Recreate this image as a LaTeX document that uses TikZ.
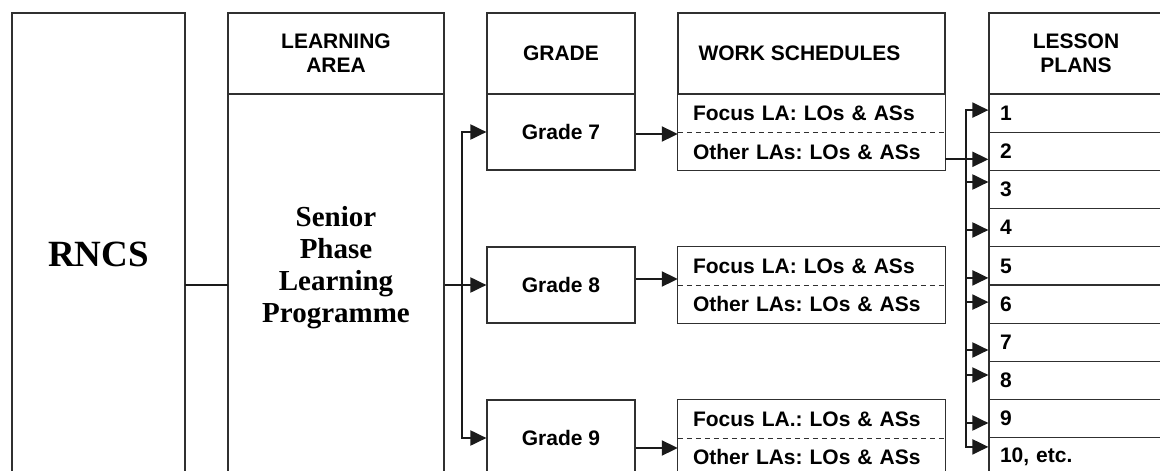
\documentclass[tikz,border=0pt]{standalone}
\usepackage{fontspec}
\setmainfont{Liberation Sans}
\newfontfamily\timesb{Liberation Serif}
\usetikzlibrary{arrows.meta,calc}
\definecolor{boxc}{HTML}{303030}
\definecolor{arrc}{HTML}{1A1A1A}
\begin{document}
\frenchspacing
\begin{tikzpicture}[x=1pt,y=-1pt,
  txt/.style={font=\frenchspacing\bfseries\fontsize{21}{24}\selectfont},
  box/.style={draw=boxc, line width=1.2pt, inner sep=0pt, txt, align=center},
  wsrow/.style={txt, text width=237pt, inner xsep=15pt, inner ysep=0pt, minimum height=38pt, align=left},
  lprow/.style={draw=boxc, line width=1.2pt, txt, text width=152pt, inner xsep=11pt, inner ysep=0pt, minimum height=38.2pt, align=left},
  boxline/.style={draw=boxc, line width=1.2pt},
  sep/.style={draw=boxc, line width=1pt, dash pattern=on 5pt off 4pt},
  conn/.style={draw=arrc, line width=2pt, line cap=rect},
  arr/.style={draw=arrc, line width=2pt, -{Triangle[length=16pt,width=15pt]}}]
\useasboundingbox (0,0) rectangle (1160,471);
\clip (0,0) rectangle (1160,471);
\fill[white] (0,0) rectangle (1160,471);
% RNCS
\node[box, minimum width=173pt, minimum height=482pt] (rncs) at (98.5,254) {\timesb\bfseries\fontsize{37}{40}\selectfont RNCS};
% Learning area
\node[box, minimum width=216pt, minimum height=81pt] (lahead) at (336,53.5) {LEARNING\\AREA};
\node[box, minimum width=216pt, minimum height=420pt, anchor=north] (la) at (336,94) {};
\node[font=\timesb\bfseries\fontsize{29}{32}\selectfont, align=center] (lat) at (336,268) {Senior\\Phase\\Learning\\Programme};
% Grade
\node[box, minimum width=148pt, minimum height=81pt] (ghead) at (561,53.5) {GRADE};
\node[box, minimum width=148pt, minimum height=76pt] (g7) at (561,132) {Grade 7};
\node[box, minimum width=148pt, minimum height=76pt] (g8) at (561,285) {Grade 8};
\node[box, minimum width=148pt, minimum height=76pt] (g9) at (561,438) {Grade 9};
% Work schedules
\node[box, minimum width=267pt, minimum height=81pt] (wshead) at (811.5,53.5) {WORK SCHEDULES\hspace*{24pt}};
\node[wsrow] (ws7f) at (811.5,113.5) {Focus LA: LOs \& ASs};
\node[wsrow] (ws7o) at (811.5,151.5) {Other LAs: LOs \& ASs};
\node[wsrow] (ws8f) at (811.5,266) {Focus LA: LOs \& ASs};
\node[wsrow] (ws8o) at (811.5,304) {Other LAs: LOs \& ASs};
\node[wsrow] (ws9f) at (811.5,419) {Focus LA.: LOs \& ASs};
\node[wsrow] (ws9o) at (811.5,457) {Other LAs: LOs \& ASs};
\foreach \g in {7,8,9}{
  \draw[boxline] (ws\g f.north west) rectangle (ws\g o.south east);
  \draw[sep] (ws\g f.south west) -- (ws\g f.south east);
}
% Lesson plans
\node[box, minimum width=174pt, minimum height=81pt] (lphead) at (1076,53.5) {LESSON\\PLANS};
\foreach \i/\t in {1/1,2/2,3/3,4/4,5/5,6/6,7/7,8/8,9/9,10/{10, etc.}}
  \node[lprow] (lp\i) at (1076,{94+38.2*(\i-0.5)}) {\t};
% connectors
\draw[conn] (rncs.east |- g8) -- (la.west |- g8);
\draw[arr] (la.east |- g8) -- (g8.west);
\coordinate (gb7) at ($(g7.west)+(-24,0)$);
\coordinate (gb9) at ($(g9.west)+(-24,0)$);
\draw[conn] (gb7) -- (gb9);
\draw[arr] (gb7) -- (g7.west);
\draw[arr] (gb9) -- (g9.west);
\draw[arr] ($(g7.east)+(0,2)$) -- ($(g7.east -| ws7f.west)+(0,2)$);
\draw[arr] ($(g8.east)+(0,-6)$) -- ($(g8.east -| ws8f.west)+(0,-6)$);
\draw[arr] ($(g9.east)+(0,10)$) -- ($(g9.east -| ws9f.west)+(0,10)$);
\foreach \i/\o in {1/-3,2/8,3/-7.5,4/2.3,5/12,6/-2,7/7.7,8/-5.5,9/4.3,10/-10}
  \coordinate (lb\i) at ($(lp\i.west)+(-22,\o)$);
\draw[conn] (lb1) -- (lb10);
\foreach \i in {1,3,4,5,6,7,8,9,10}
  \draw[arr] (lb\i) -- (lb\i -| lp\i.west);
\draw[arr] (ws7o.east |- lb2) -- (lb2 -| lp2.west);
\end{tikzpicture}
\end{document}
